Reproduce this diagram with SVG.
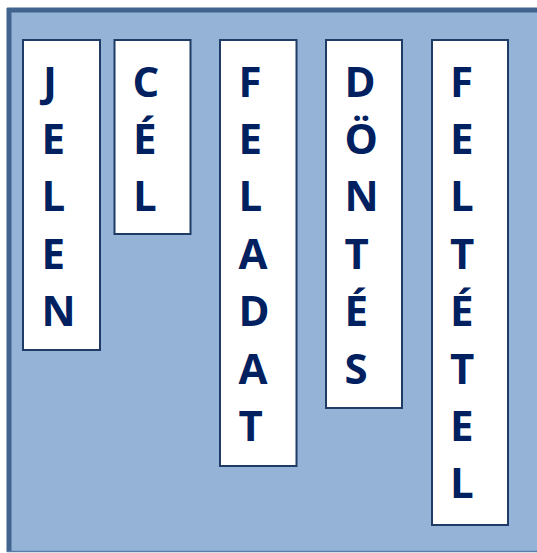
<svg xmlns="http://www.w3.org/2000/svg" width="537" height="553" viewBox="0 0 537 553">
<style>
.box{fill:#ffffff;stroke:#1F3B66;stroke-width:2}
.lt{font-family:"Open Sans","Liberation Sans",sans-serif;font-weight:bold;font-size:42px;fill:#002060;text-anchor:start}
</style>
<g id="frame">
<rect x="7" y="8" width="535" height="544" fill="#95B3D7"/>
<line x1="7" y1="10" x2="537" y2="10" stroke="#41648F" stroke-width="5"/>
<line x1="9" y1="8" x2="9" y2="552" stroke="#41648F" stroke-width="5"/>
<line x1="7" y1="551.5" x2="537" y2="551.5" stroke="#5A7CA8" stroke-width="1.5"/>
</g>
<g id="connectors"></g>
<g id="jelen">
<rect class="box" x="23" y="40" width="77" height="310"/>
<text class="lt"><tspan x="43" y="96.5">J</tspan><tspan x="41.5" dy="57.4">E</tspan><tspan x="41.5" dy="57.4">L</tspan><tspan x="41.5" dy="57.4">E</tspan><tspan x="41.5" dy="57.4">N</tspan></text>
</g>
<g id="cel">
<rect class="box" x="114.5" y="40" width="76" height="194"/>
<text class="lt"><tspan x="132.5" y="96.5">C</tspan><tspan x="133" dy="57.4">É</tspan><tspan x="133" dy="57.4">L</tspan></text>
</g>
<g id="feladat">
<rect class="box" x="220" y="40" width="76.5" height="426"/>
<text class="lt"><tspan x="238.5" y="96.5">F</tspan><tspan x="238.5" dy="57.4">E</tspan><tspan x="238.5" dy="57.4">L</tspan><tspan x="238.5" dy="57.4">A</tspan><tspan x="238.5" dy="57.4">D</tspan><tspan x="238.5" dy="57.4">A</tspan><tspan x="238.5" dy="57.4">T</tspan></text>
</g>
<g id="dontes">
<rect class="box" x="326" y="40" width="76" height="368"/>
<text class="lt"><tspan x="344.5" y="96.5">D</tspan><tspan x="344.5" dy="57.4">Ö</tspan><tspan x="344.5" dy="57.4">N</tspan><tspan x="344.5" dy="57.4">T</tspan><tspan x="344.5" dy="57.4">É</tspan><tspan x="344.5" dy="57.4">S</tspan></text>
</g>
<g id="feltetel">
<rect class="box" x="432" y="40" width="76" height="485"/>
<text class="lt"><tspan x="450" y="96.5">F</tspan><tspan x="450" dy="57.4">E</tspan><tspan x="450" dy="57.4">L</tspan><tspan x="450" dy="57.4">T</tspan><tspan x="450" dy="57.4">É</tspan><tspan x="450" dy="57.4">T</tspan><tspan x="450" dy="57.4">E</tspan><tspan x="450" dy="57.4">L</tspan></text>
</g>
</svg>
